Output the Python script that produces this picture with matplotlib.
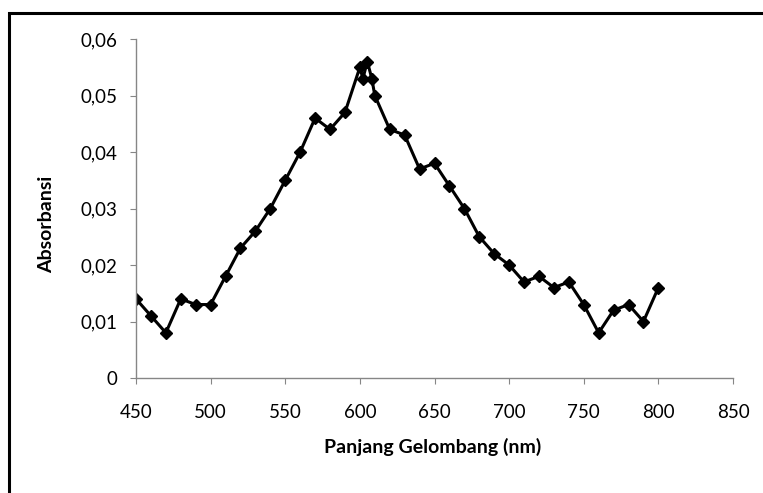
import numpy as np
import matplotlib.pyplot as plt
from matplotlib.ticker import FuncFormatter
from matplotlib.patches import Rectangle

# data
panjang = [450, 460, 470, 480, 490, 500, 510, 520, 530, 540, 550, 560, 570, 580,
           590, 600, 602, 605, 608, 610, 620, 630, 640, 650, 660, 670, 680, 690,
           700, 710, 720, 730, 740, 750, 760, 770, 780, 790, 800]
absorbansi = [0.014, 0.011, 0.008, 0.014, 0.013, 0.013, 0.018, 0.023, 0.026, 0.030,
              0.035, 0.040, 0.046, 0.044, 0.047, 0.055, 0.053, 0.056, 0.053, 0.050,
              0.044, 0.043, 0.037, 0.038, 0.034, 0.030, 0.025, 0.022, 0.020, 0.017,
              0.018, 0.016, 0.017, 0.013, 0.008, 0.012, 0.013, 0.010, 0.016]

xticks = [450, 500, 550, 600, 650, 700, 750, 800, 850]
yticks = [0, 0.01, 0.02, 0.03, 0.04, 0.05, 0.06]

plt.rcParams['font.family'] = ['Lato', 'DejaVu Sans']

fig = plt.figure(figsize=(7.63, 4.93), dpi=100)

# bingkai chart (kiri dan atas saja terlihat)
fig.patches.append(Rectangle((9 / 763, -0.1), 2, 1 - 13 / 493 + 0.1,
                             transform=fig.transFigure, fill=False,
                             edgecolor='black', linewidth=2.2))

ax = fig.add_axes([136 / 763, 1 - 378 / 493, (733 - 136) / 763, (378 - 39) / 493])
ax.plot(panjang, absorbansi, color='black', linewidth=2.2, marker='D',
        markersize=6.5, markerfacecolor='black', markeredgecolor='black')

ax.set_xlim(450, 850)
ax.set_ylim(0, 0.06)
ax.set_xticks(xticks)
ax.set_yticks(yticks)
ax.yaxis.set_major_formatter(FuncFormatter(
    lambda v, p: '0' if v == 0 else ('%.2f' % v).replace('.', ',')))

for s in ['top', 'right']:
    ax.spines[s].set_visible(False)
for s in ['left', 'bottom']:
    ax.spines[s].set_color('#868686')
    ax.spines[s].set_linewidth(1)
ax.tick_params(direction='out', length=4.5, color='#868686', labelsize=13.5,
               labelcolor='black')
ax.tick_params(axis='y', pad=9)
ax.tick_params(axis='x', pad=14)

# judul sumbu
fig.text(433 / 763, 1 - 447 / 493, 'Panjang Gelombang (nm)', fontsize=14,
         fontweight='bold', ha='center', va='center')
fig.text(47 / 763, 1 - 224 / 493, 'Absorbansi', fontsize=14, fontweight='bold',
         ha='center', va='center', rotation=90)

fig.savefig('out.png', dpi=100)
